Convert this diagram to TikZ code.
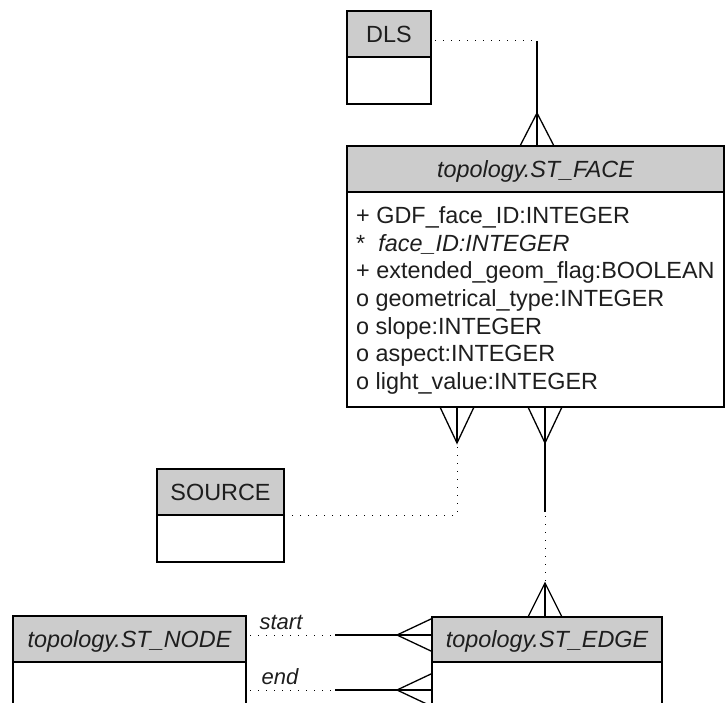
\documentclass[tikz,border=0pt]{standalone}
\usepackage{fontspec}
\setmainfont{Liberation Sans}
\usetikzlibrary{calc}
\definecolor{hdrgray}{RGB}{204,204,204}
\definecolor{ink}{RGB}{30,30,30}
\begin{document}
\begin{tikzpicture}[x=1pt,y=-1pt,
  every node/.style={font=\fontsize{23.4}{27}\selectfont, text=ink},
  hdr/.style={draw=black, line width=1.6pt, fill=hdrgray, inner sep=0pt, outer sep=0pt, anchor=north west, text height=16.7pt, text depth=0pt},
  bodybox/.style={draw=black, line width=1.6pt, fill=white, inner sep=0pt, outer sep=0pt, anchor=north west},
  attr/.style={anchor=base west, inner sep=0pt},
  rel/.style={draw=black, line width=1.3pt},
  dotrel/.style={draw=black, line width=1pt, dash pattern=on 1pt off 7pt, dash phase=4pt},
  rolelabel/.style={font=\fontsize{22}{27}\selectfont\itshape, inner sep=0pt}
]
\useasboundingbox (0,0) rectangle (725,703);
\clip (0,0) rectangle (725,703);

% DLS
\node[bodybox, minimum width=84pt, minimum height=47pt] (dlsB) at (347,57) {};
\node[hdr, minimum width=84pt, minimum height=46pt] (dlsH) at (347,11) {DLS};

% ST_FACE
\node[bodybox, minimum width=377pt, minimum height=215pt] (faceB) at (347,192) {};
\node[hdr, minimum width=377pt, minimum height=46pt, font=\fontsize{23.4}{27}\selectfont\itshape] (faceH) at (347,146) {topology.ST\_FACE};
\node[attr] (a1) at (356,224) {+ GDF\_face\_ID:INTEGER};
\node[attr] (a2) at (356,251.5) {*\ \ \textit{face\_ID:INTEGER}};
\node[attr] (a3) at (356,279) {+ extended\_geom\_flag:BOOLEAN};
\node[attr] (a4) at (356,306.5) {o geometrical\_type:INTEGER};
\node[attr] (a5) at (356,334) {o slope:INTEGER};
\node[attr] (a6) at (356,361.5) {o aspect:INTEGER};
\node[attr] (a7) at (356,389) {o light\_value:INTEGER};

% SOURCE
\node[bodybox, minimum width=127pt, minimum height=47pt] (srcB) at (157,515) {};
\node[hdr, minimum width=127pt, minimum height=46pt] (srcH) at (157,469) {SOURCE};

% ST_NODE
\node[bodybox, minimum width=233pt, minimum height=70pt] (nodeB) at (13,662) {};
\node[hdr, minimum width=233pt, minimum height=46pt, font=\fontsize{23.4}{27}\selectfont\itshape] (nodeH) at (13,616) {topology.ST\_NODE};

% ST_EDGE
\node[bodybox, minimum width=230pt, minimum height=70pt] (edgeB) at (432,662) {};
\node[hdr, minimum width=230pt, minimum height=45pt, font=\fontsize{23.4}{27}\selectfont\itshape] (edgeH) at (432,617) {topology.ST\_EDGE};

% DLS -- ST_FACE
\coordinate (k1) at (537,41);
\coordinate (f1) at (faceH.north -| k1);
\draw[dotrel] (dlsH.east |- k1) -- (k1);
\draw[rel] (k1) -- (f1);
\draw[rel] ([xshift=-17pt]f1) -- ([yshift=33pt]f1) -- ([xshift=17pt]f1);

% ST_FACE -- SOURCE
\coordinate (k2) at (457,515);
\coordinate (f2) at (faceB.south -| k2);
\coordinate (p2) at ([yshift=-36pt]f2);
\draw[rel] (f2) -- (p2);
\draw[rel] ([xshift=-17pt]f2) -- (p2) -- ([xshift=17pt]f2);
\draw[dotrel] (p2) -- (k2) -- (srcH.south east);

% ST_FACE -- ST_EDGE
\coordinate (k3) at (545,512);
\coordinate (f3) at (faceB.south -| k3);
\coordinate (p3) at ([yshift=-36pt]f3);
\coordinate (e3) at (edgeH.north -| k3);
\coordinate (q3) at ([yshift=34pt]e3);
\draw[rel] ([xshift=-17pt]f3) -- (p3) -- ([xshift=17pt]f3);
\draw[rel] (f3) -- (k3);
\draw[dotrel] (k3) -- (q3);
\draw[rel] ([xshift=-17pt]e3) -- (q3) -- ([xshift=17pt]e3);
\draw[rel] (q3) -- (e3);

% start
\coordinate (s1) at (335,635);
\coordinate (s0) at (nodeH.east |- s1);
\coordinate (s2) at (edgeH.west |- s1);
\draw[dotrel] (s0) -- (s1);
\draw[rel] (s1) -- (s2);
\draw[rel] ([yshift=16.5pt]s2) -- ([xshift=-35pt]s2) -- ([yshift=-16.5pt]s2);
\node[rolelabel] (lstart) at (281,622) {start};

% end
\coordinate (t1) at (335,690);
\coordinate (t0) at (nodeB.east |- t1);
\coordinate (t2) at (edgeB.west |- t1);
\draw[dotrel] (t0) -- (t1);
\draw[rel] (t1) -- (t2);
\draw[rel] ([yshift=16.5pt]t2) -- ([xshift=-35pt]t2) -- ([yshift=-16.5pt]t2);
\node[rolelabel] (lend) at (280,677) {end};
\end{tikzpicture}
\end{document}
